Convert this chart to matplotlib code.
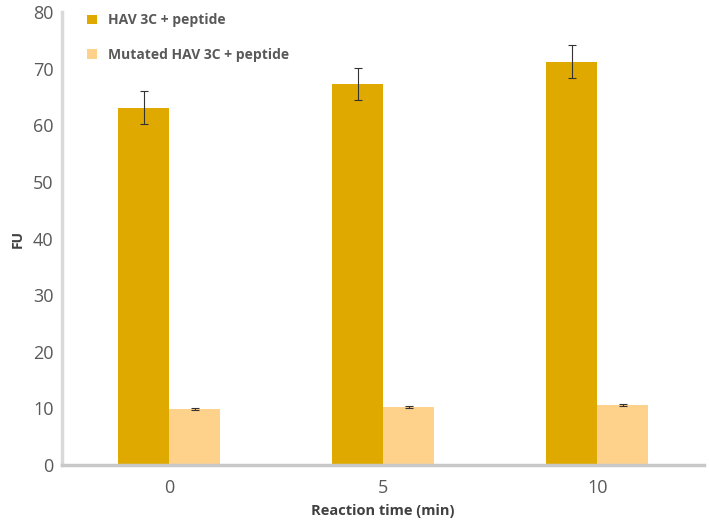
import numpy as np
import matplotlib
matplotlib.use("Agg")
import matplotlib.pyplot as plt

plt.rcParams['font.family'] = ['Open Sans', 'DejaVu Sans']

# data
times = ['0', '5', '10']
hav = [63.1, 67.3, 71.2]
hav_err = [2.9, 2.8, 2.9]
mutated = [9.9, 10.2, 10.6]
mutated_err = [0.2, 0.15, 0.2]

dark = '#E0A900'
light = '#FFD28C'

fig = plt.figure(figsize=(7.09, 5.26), dpi=100)
ax = fig.add_axes([0.0875, 0.116, 0.906, 0.861])

x = np.arange(len(times))
w = 0.238
ax.bar(x - w / 2, hav, w, color=dark, label='HAV 3C + peptide',
       yerr=hav_err, error_kw=dict(ecolor='#333333', elinewidth=0.8, capsize=3, capthick=0.8))
ax.bar(x + w / 2, mutated, w, color=light, label='Mutated HAV 3C + peptide',
       yerr=mutated_err, error_kw=dict(ecolor='#333333', elinewidth=0.8, capsize=3, capthick=0.8))

ax.set_xlim(-0.5, 2.5)
ax.set_ylim(0, 80)
ax.set_yticks(range(0, 81, 10))
ax.set_xticks(x)
ax.set_xticklabels(times)
ax.tick_params(axis='both', length=0, labelsize=13, labelcolor='#595959')
ax.tick_params(axis='x', pad=10)
ax.tick_params(axis='y', pad=6)

for s in ['top', 'right']:
    ax.spines[s].set_visible(False)
ax.spines['left'].set_color('#D9D9D9')
ax.spines['left'].set_linewidth(2.5)
ax.spines['bottom'].set_color('#C8C8C8')
ax.spines['bottom'].set_linewidth(2.5)

ax.set_ylabel('FU', fontsize=10, fontweight='bold', color='#404040', labelpad=6)
ax.set_xlabel('Reaction time (min)', fontsize=10.5, fontweight='bold', color='#404040', labelpad=5)

leg = ax.legend(loc='upper left', bbox_to_anchor=(0.02, 1.025), frameon=False,
                handlelength=0.7, handleheight=0.7, handletextpad=0.8,
                labelspacing=1.5, prop={'weight': 'bold', 'size': 10})
for t in leg.get_texts():
    t.set_color('#595959')

plt.savefig('out.png', dpi=100)
